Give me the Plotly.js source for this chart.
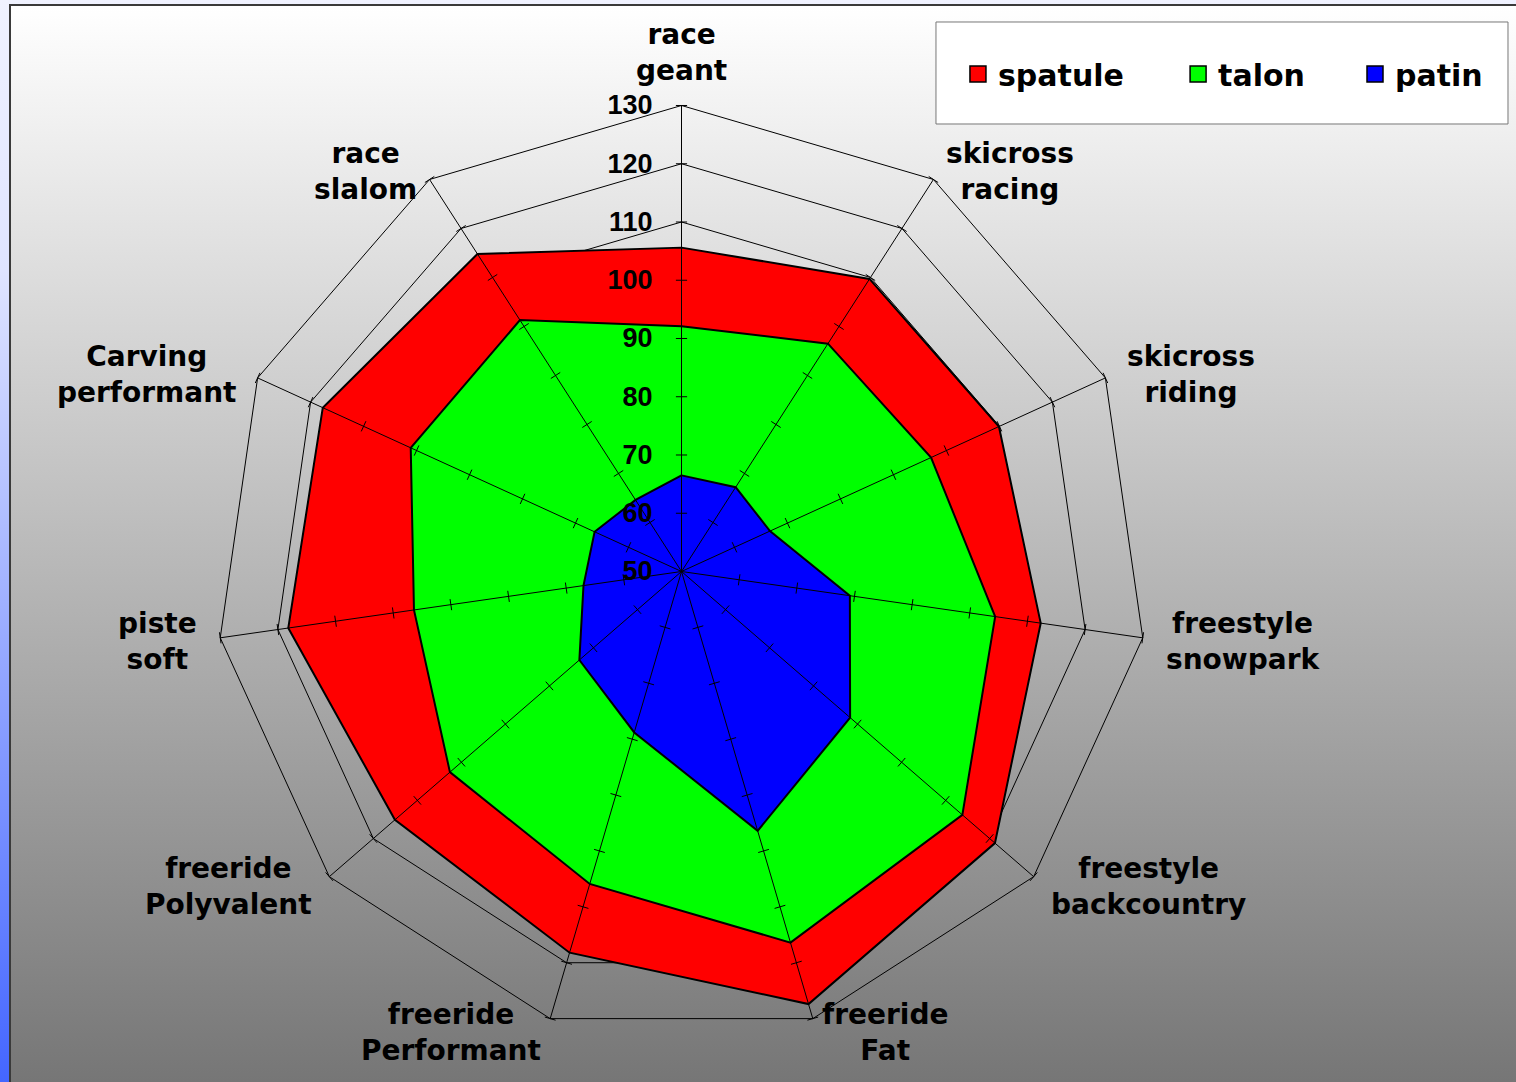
<!DOCTYPE html>
<html><head><meta charset="utf-8">
<script src="https://cdn.plot.ly/plotly-3.0.1.min.js"></script>
<style>
html,body{margin:0;padding:0;width:1516px;height:1082px;overflow:hidden;background:linear-gradient(to bottom,#f0f2ff 0%,#dfe4ff 25%,#4466ff 100%);}
#frame{position:absolute;left:9px;top:4px;width:1507px;height:1078px;border-left:2px solid #3a3a3a;border-top:2px solid #3a3a3a;background:linear-gradient(to bottom,#ffffff 0%,#767676 100%);box-sizing:border-box;}
#chart{position:absolute;left:0;top:0;width:1516px;height:1082px;}
</style></head><body><div id="frame"></div><div id="chart"></div>
<script>
const categories = ['race geant','skicross racing','skicross riding','freestyle snowpark','freestyle backcountry','freeride Fat','freeride Performant','freeride Polyvalent','piste soft','Carving performant','race slalom'];
const spatule = [105.6, 109.7, 109.9, 112.3, 121.2, 127.4, 118.2, 115.1, 118.2, 117.7, 114.8];
const talon   = [92.1, 96.5, 97.1, 104.4, 113.8, 116.4, 105.9, 102.6, 96.4, 101.1, 101.3];
const patin   = [66.5, 67.2, 66.7, 79.2, 88.3, 96.4, 78.8, 73.2, 67.0, 66.4, 64.6];
const radialTicks = [50, 60, 70, 80, 90, 100, 110, 120, 130];
const seriesNames = ['spatule', 'talon', 'patin'];

const seriesColors = ['#ff0000', '#00ff00', '#0000ff'];
const W = 1516, H = 1082;
const polarDomain = {x:[0.14215, 0.75693], y:[0.04113, 0.90250]};
const categoryLabels = categories.map(c => c.replace(' ', '<br>'));
function closed(a) { return a.concat([a[0]]); }

const traces = [];
[spatule, talon, patin].forEach((vals, i) => {
  traces.push({type:'scatterpolar', r: closed(vals), theta: closed(categories), mode:'lines', fill:'toself',
    fillcolor: seriesColors[i], line:{color:'#000', width:2}, showlegend:false, hoverinfo:'skip', name: seriesNames[i]});
});
const spokeR = [], spokeT = [];
categories.forEach(c => { spokeR.push(radialTicks[0], radialTicks[radialTicks.length-1], null); spokeT.push(c, c, null); });
traces.push({type:'scatterpolar', r: spokeR, theta: spokeT, mode:'lines', connectgaps:false,
  line:{color:'#000', width:1}, showlegend:false, hoverinfo:'skip'});
const tickR = [], tickT = [], tickA = [];
categories.forEach((c, k) => { radialTicks.slice(1).forEach(v => { tickR.push(v); tickT.push(c); tickA.push(k * 360 / categories.length); }); });
traces.push({type:'scatterpolar', r: tickR, theta: tickT, mode:'markers',
  marker:{symbol:'line-ew', size:8, angle: tickA, color:'#000', line:{color:'#000', width:1}}, showlegend:false, hoverinfo:'skip'});
seriesNames.forEach((n, i) => {
  traces.push({type:'scatterpolar', r:[null], theta:[categories[0]], mode:'markers', name: n,
    legend: i === 0 ? 'legend' : 'legend' + (i + 1),
    marker:{symbol:'square', size:16, color: seriesColors[i], line:{color:'#000', width:1.5}}, showlegend:true});
});

// category labels placed just outside each spoke end of the polar grid
const cxp = (polarDomain.x[0] + polarDomain.x[1]) / 2;
const cyp = (polarDomain.y[0] + polarDomain.y[1]) / 2;
const Rpx = Math.min(W * (polarDomain.x[1] - polarDomain.x[0]), H * (polarDomain.y[1] - polarDomain.y[0])) / 2;
const labelFont = {family:'DejaVu Sans', size:28, weight:'bold', color:'#000'};
const annotations = categories.map((c, k) => {
  const th = k * 2 * Math.PI / categories.length;
  const s = Math.sin(th), co = Math.cos(th);
  const a = {xref:'paper', yref:'paper', x: cxp + Rpx * s / W, y: cyp + Rpx * co / H, text: categoryLabels[k],
    showarrow:false, font: labelFont, align:'center'};
  if (Math.abs(s) < 0.05) { a.xanchor = 'center'; a.yanchor = 'bottom'; a.yshift = 16; }
  else {
    a.xanchor = s > 0 ? 'left' : 'right'; a.yanchor = 'middle';
    a.xshift = (s > 0 ? 1 : -1) * (6 + 16 * s * s);
    a.yshift = 12 * co - 2;
  }
  return a;
});

const legendFont = {family:'DejaVu Sans', size:30, weight:'bold', color:'#000'};
function legendAt(x) {
  return {orientation:'h', x: x, xanchor:'left', y: 0.9316, yanchor:'middle', bgcolor:'rgba(0,0,0,0)', borderwidth:0, font: legendFont};
}

const layout = {
  width:W, height:H, margin:{l:0, r:0, t:0, b:0},
  paper_bgcolor:'rgba(0,0,0,0)', plot_bgcolor:'rgba(0,0,0,0)',
  showlegend:true,
  font:{family:'DejaVu Sans', color:'#000'},
  polar:{
    domain: polarDomain,
    bgcolor:'rgba(0,0,0,0)',
    gridshape:'linear',
    angularaxis:{type:'category', categoryorder:'array', categoryarray: categories, direction:'clockwise', rotation:90,
      showticklabels:false, showgrid:false, showline:true, linecolor:'#000', linewidth:1, ticks:''},
    radialaxis:{range:[50, 130], tickmode:'array', tickvals: radialTicks, showgrid:true, gridcolor:'#000', gridwidth:1,
      showline:false, angle:90, side:'counterclockwise', ticks:'outside', ticklen:19, tickcolor:'rgba(0,0,0,0)',
      tickangle:90, tickfont:{family:'Liberation Sans', size:27, weight:'bold', color:'#000'}, layer:'above traces'}
  },
  annotations: annotations,
  legend: legendAt(0.6319),
  legend2: legendAt(0.7771),
  legend3: legendAt(0.8938),
  shapes:[{type:'rect', xref:'paper', yref:'paper', x0:0.6174, x1:0.99472, y0:0.88540, y1:0.97967,
    layer:'below', fillcolor:'#ffffff', line:{color:'#777777', width:1}}]
};
Plotly.newPlot('chart', traces, layout, {displayModeBar:false, staticPlot:true});
</script></body></html>
